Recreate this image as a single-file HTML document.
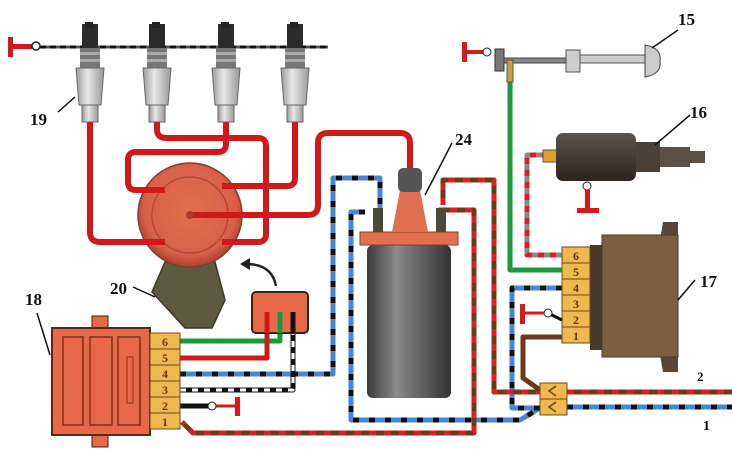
<!DOCTYPE html>
<html><head><meta charset="utf-8"><style>
html,body{margin:0;padding:0;background:#fff}
svg{display:block}
text{font-family:"Liberation Serif",serif;font-weight:bold;fill:#111}
.pin{font-family:"Liberation Serif",serif;font-size:12px;font-weight:bold;fill:#5a3a10}
</style></head><body>
<svg width="732" height="449" viewBox="0 0 732 449" xmlns="http://www.w3.org/2000/svg">
<defs>
<linearGradient id="cyl" x1="0" x2="1"><stop offset="0" stop-color="#3a3a3a"/><stop offset="0.35" stop-color="#8a8a8a"/><stop offset="1" stop-color="#333"/></linearGradient>
<linearGradient id="cer" x1="0" x2="1"><stop offset="0" stop-color="#999"/><stop offset="0.4" stop-color="#e8e8e8"/><stop offset="1" stop-color="#999"/></linearGradient>
<radialGradient id="cap" cx="0.5" cy="0.45" r="0.55"><stop offset="0" stop-color="#e0704e"/><stop offset="0.8" stop-color="#d8604a"/><stop offset="1" stop-color="#a84030"/></radialGradient>
<linearGradient id="sol" x1="0" y1="0" x2="0" y2="1"><stop offset="0" stop-color="#555"/><stop offset="0.4" stop-color="#4a4038"/><stop offset="1" stop-color="#2a2420"/></linearGradient>
<g id="plug">
<rect x="-8" y="24" width="16" height="24" fill="#2a2a2a"/>
<rect x="-5" y="22" width="8" height="6" fill="#222"/>
<rect x="-10" y="48" width="20" height="20" fill="#777"/>
<rect x="-10" y="52" width="20" height="3" fill="#aaa"/><rect x="-10" y="59" width="20" height="3" fill="#aaa"/>
<polygon points="-14,68 14,68 11,105 -11,105" fill="url(#cer)" stroke="#666" stroke-width="1"/>
<rect x="-8" y="105" width="16" height="17" fill="url(#cer)" stroke="#666" stroke-width="1"/>
</g>
</defs>

<line x1="40" y1="47" x2="328" y2="47" stroke="#555" stroke-width="3"/>
<line x1="40" y1="47" x2="328" y2="47" stroke="#111" stroke-width="3" stroke-dasharray="6 4"/>
<rect x="8" y="37" width="5" height="20" fill="#d41a1a"/><rect x="8" y="44" width="24" height="5" fill="#d41a1a"/>
<circle cx="36" cy="46" r="4" fill="#fff" stroke="#222" stroke-width="1.5"/>

<use href="#plug" x="90"/>
<use href="#plug" x="157"/>
<use href="#plug" x="226"/>
<use href="#plug" x="295"/>

<polygon points="165,262 215,262 225,300 212,328 185,328 152,292" fill="#5e5a40" stroke="#3a3828" stroke-width="1.5"/>
<circle cx="190" cy="215" r="52" fill="url(#cap)" stroke="#8a3a2a" stroke-width="1.5"/>
<circle cx="190" cy="215" r="38" fill="none" stroke="#b04a38" stroke-width="1.5"/>

<g fill="none" stroke="#d21818" stroke-width="6" stroke-linejoin="round">
<path d="M90,122 V232 Q90,242 100,242 H165"/>
<path d="M157,122 V130 Q157,138 167,138 H258 Q266,138 266,146 V234 Q266,242 258,242 H222"/>
<path d="M226,122 V144 Q226,152 218,152 H136 Q128,152 128,160 V182 Q128,190 136,190 H165"/>
<path d="M295,122 V178 Q295,186 287,186 H222"/>
<path d="M190,215 H308 Q318,215 318,205 V143 Q318,133 328,133 H400 Q410,133 410,143 V172"/>
</g>
<circle cx="190" cy="215" r="4" fill="#a83a2a"/>

<g fill="none" stroke-width="5" stroke-linejoin="round">
<path d="M180,374 H333 V178 H380 V215" stroke="#4a86d6"/>
<path d="M180,374 H333 V178 H380 V215" stroke="#111" stroke-dasharray="6 10"/>
<path d="M365,212 H351 V420 H520 L540,408 M562,288 H512 V408 H540 M567,407 H732" stroke="#4a86d6"/>
<path d="M365,212 H351 V420 H520 L540,408 M562,288 H512 V408 H540 M567,407 H732" stroke="#111" stroke-dasharray="6 10"/>
<path d="M440,215 V210 H474 V433 H193 L182,422" stroke="#6a3a1a"/>
<path d="M440,215 V210 H474 V433 H193 L182,422" stroke="#d82020" stroke-dasharray="7 8"/>
<path d="M443,205 V180 H494 V392 H540 M567,392 H732" stroke="#6a3a1a"/>
<path d="M443,205 V180 H494 V392 H540 M567,392 H732" stroke="#d82020" stroke-dasharray="7 8"/>
<path d="M562,337 H523 V378 L540,390" stroke="#6a3a1a"/>
<path d="M548,155 H527 V255 H562" stroke="#888"/>
<path d="M548,155 H527 V255 H562" stroke="#d82020" stroke-dasharray="6 6"/>
<path d="M510,80 V270 H562" stroke="#1a9a3a"/>
<path d="M180,341 H280 V318" stroke="#1a9a3a"/>
<path d="M180,358 H267 V318" stroke="#d21818"/>
<path d="M180,390 H293 V318" stroke="#111"/>
<path d="M180,390 H293 V318" stroke="#fff" stroke-width="3" stroke-dasharray="6 6"/>
<path d="M180,406 H210" stroke="#111"/>
<path d="M214,406 H237" stroke="#d21818" stroke-width="3"/>
</g>
<circle cx="212" cy="406" r="4" fill="#fff" stroke="#222"/>
<rect x="235" y="397" width="5" height="19" fill="#d41a1a"/>

<rect x="252" y="292" width="56" height="41" rx="4" fill="#e8684a" stroke="#3a2218" stroke-width="2"/>
<path d="M276,286 Q272,264 246,264" fill="none" stroke="#222" stroke-width="2.5"/>
<polygon points="240,264 250,258 250,270" fill="#222"/>
<line x1="267" y1="312" x2="267" y2="333" stroke="#d21818" stroke-width="5"/>
<line x1="280" y1="312" x2="280" y2="333" stroke="#1a9a3a" stroke-width="5"/>
<line x1="293" y1="312" x2="293" y2="333" stroke="#111" stroke-width="5"/>

<rect x="367" y="245" width="84" height="153" rx="6" fill="url(#cyl)"/>
<rect x="360" y="232" width="98" height="13" fill="#e07050" stroke="#8a3a2a"/>
<polygon points="400,190 420,190 428,232 392,232" fill="#e07050"/>
<rect x="398" y="168" width="24" height="24" rx="5" fill="#555"/>
<rect x="373" y="208" width="10" height="24" fill="#4a4a3a"/>
<rect x="436" y="208" width="10" height="24" fill="#4a4a3a"/>
<line x1="425" y1="195" x2="452" y2="143" stroke="#111" stroke-width="1.5"/>

<rect x="92" y="316" width="16" height="14" fill="#e8684a" stroke="#3a2218"/>
<rect x="92" y="434" width="16" height="13" fill="#e8684a" stroke="#3a2218"/>
<rect x="52" y="328" width="98" height="107" fill="#e8684a" stroke="#5a2a18" stroke-width="2"/>
<rect x="63" y="337" width="20" height="88" fill="none" stroke="#7a3018" stroke-width="1.5"/>
<rect x="90" y="337" width="22" height="88" fill="none" stroke="#7a3018" stroke-width="1.5"/>
<rect x="118" y="337" width="22" height="88" fill="none" stroke="#7a3018" stroke-width="1.5"/>
<rect x="127" y="357" width="6" height="46" fill="none" stroke="#7a3018"/>
<g stroke="#6a4a18" fill="#f0b850">
<rect x="150" y="333" width="30" height="16"/><rect x="150" y="349" width="30" height="16"/>
<rect x="150" y="365" width="30" height="16"/><rect x="150" y="381" width="30" height="16"/>
<rect x="150" y="397" width="30" height="16"/><rect x="150" y="413" width="30" height="16"/>
</g>
<text class="pin" x="162" y="346">6</text><text class="pin" x="162" y="362">5</text>
<text class="pin" x="162" y="378">4</text><text class="pin" x="162" y="394">3</text>
<text class="pin" x="162" y="410">2</text><text class="pin" x="162" y="426">1</text>
<line x1="37" y1="313" x2="50" y2="355" stroke="#111" stroke-width="1.5"/>

<rect x="540" y="383" width="27" height="16" fill="#f0b850" stroke="#6a4a18"/>
<rect x="540" y="399" width="27" height="16" fill="#f0b850" stroke="#6a4a18"/>
<path d="M556,386 L549,391 L556,396 M556,402 L549,407 L556,412" fill="none" stroke="#6a4a18" stroke-width="1.5"/>

<polygon points="660,240 663,222 678,222 678,240" fill="#5a4636"/>
<polygon points="660,355 678,355 678,372 663,372" fill="#5a4636"/>
<rect x="590" y="245" width="14" height="105" fill="#4a3a2a"/>
<rect x="602" y="235" width="76" height="122" fill="#7a6040" stroke="#4a3a28"/>
<g stroke="#6a4a18" fill="#f0b850">
<rect x="562" y="247" width="28" height="16"/><rect x="562" y="263" width="28" height="16"/>
<rect x="562" y="279" width="28" height="16"/><rect x="562" y="295" width="28" height="16"/>
<rect x="562" y="311" width="28" height="16"/><rect x="562" y="327" width="28" height="16"/>
</g>
<text class="pin" x="573" y="260">6</text><text class="pin" x="573" y="276">5</text>
<text class="pin" x="573" y="292">4</text><text class="pin" x="573" y="308">3</text>
<text class="pin" x="573" y="324">2</text><text class="pin" x="573" y="340">1</text>
<line x1="562" y1="320" x2="550" y2="314" stroke="#111" stroke-width="3"/>
<circle cx="548" cy="313" r="4" fill="#fff" stroke="#222"/>
<line x1="524" y1="313" x2="544" y2="313" stroke="#d41a1a" stroke-width="3"/>
<rect x="520" y="304" width="5" height="20" fill="#d41a1a"/>
<line x1="678" y1="300" x2="695" y2="280" stroke="#111" stroke-width="1.5"/>

<rect x="462" y="42" width="5" height="20" fill="#d41a1a"/>
<line x1="465" y1="52" x2="483" y2="52" stroke="#d41a1a" stroke-width="4"/>
<circle cx="487" cy="52" r="4" fill="#fff" stroke="#222"/>
<rect x="495" y="49" width="9" height="22" fill="#777" stroke="#333"/>
<rect x="504" y="58" width="62" height="5" fill="#888" stroke="#444"/>
<rect x="566" y="50" width="14" height="22" fill="#ccc" stroke="#555"/>
<rect x="580" y="55" width="65" height="8" fill="#ccc" stroke="#555"/>
<path d="M645,45 Q662,48 660,61 Q662,74 645,77 Z" fill="#ccc" stroke="#444"/>
<rect x="507" y="60" width="6" height="22" fill="#c8a040" stroke="#555"/>
<line x1="652" y1="48" x2="678" y2="30" stroke="#111" stroke-width="1.5"/>

<rect x="543" y="150" width="14" height="12" fill="#e0a030" stroke="#555"/>
<rect x="556" y="133" width="80" height="48" rx="7" fill="url(#sol)"/>
<rect x="636" y="142" width="24" height="30" fill="#4a4038"/>
<rect x="660" y="147" width="30" height="20" fill="#5a5048"/>
<rect x="690" y="151" width="15" height="12" fill="#5a5048"/>
<line x1="655" y1="145" x2="690" y2="115" stroke="#111" stroke-width="1.5"/>
<circle cx="587" cy="186" r="4" fill="#fff" stroke="#222"/>
<rect x="585" y="190" width="5" height="20" fill="#d41a1a"/>
<rect x="577" y="208" width="22" height="5" fill="#d41a1a"/>

<line x1="58" y1="112" x2="75" y2="97" stroke="#111" stroke-width="1.5"/>
<line x1="133" y1="287" x2="155" y2="297" stroke="#111" stroke-width="1.5"/>

<text x="30" y="125" font-size="17">19</text>
<text x="110" y="294" font-size="17">20</text>
<text x="25" y="305" font-size="17">18</text>
<text x="455" y="145" font-size="17">24</text>
<text x="678" y="25" font-size="17">15</text>
<text x="690" y="118" font-size="17">16</text>
<text x="700" y="287" font-size="17">17</text>
<text x="697" y="381" font-size="13">2</text>
<text x="703" y="430" font-size="14">1</text>
</svg>
</body></html>
